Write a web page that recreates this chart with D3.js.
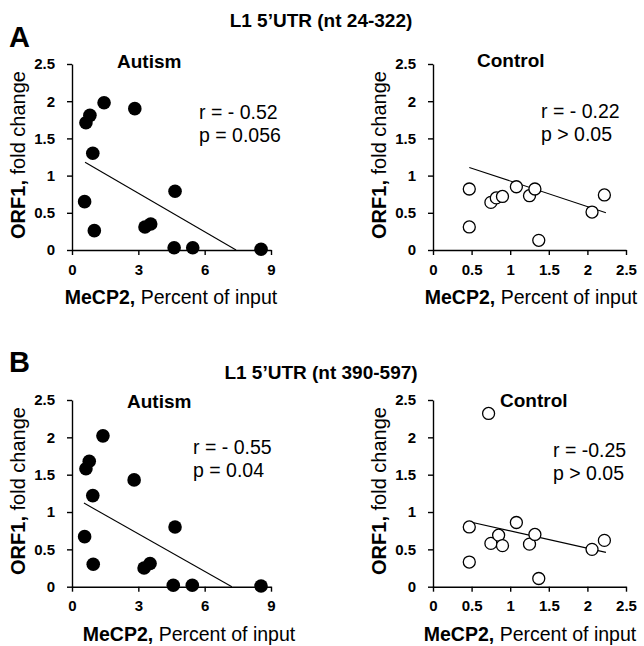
<!DOCTYPE html>
<html>
<head>
<meta charset="utf-8">
<script src="https://cdn.jsdelivr.net/npm/d3@7"></script>
<style>
  body { margin: 0; background: #fff; }
  text { font-family: "Liberation Sans", Arial, sans-serif; }
</style>
</head>
<body>
<div id="chart"></div>
<script>
// values
var sectionTitles = ["L1 5\u2019UTR (nt 24-322)", "L1 5\u2019UTR (nt 390-597)"];
var sectionLetters = ["A", "B"];

var autismXTicks = [0, 3, 6, 9];
var controlXTicks = [0, 0.5, 1, 1.5, 2, 2.5];
var yTicks = [0, 0.5, 1, 1.5, 2, 2.5];

// A, autism
var autismA_x = [1.45, 2.84, 0.81, 0.63, 0.94, 0.57, 1.01, 4.66, 3.30, 3.56, 4.62, 5.46, 8.55];
var autismA_y = [1.98, 1.90, 1.81, 1.71, 1.30, 0.65, 0.26, 0.79, 0.31, 0.35, 0.03, 0.03, 0.01];
var autismA_trend = [[0.59, 1.18], [7.42, 0]];
var autismA_stats = ["r = - 0.52", "p = 0.056"];

// A, control
var controlA_x = [0.47, 0.47, 0.75, 0.82, 0.90, 1.08, 1.25, 1.32, 1.37, 2.06, 2.22];
var controlA_y = [0.82, 0.31, 0.64, 0.70, 0.72, 0.85, 0.73, 0.82, 0.13, 0.51, 0.74];
var controlA_trend = [[0.47, 1.11], [2.24, 0.50]];
var controlA_stats = ["r = - 0.22", "p > 0.05"];

// B, autism
var autismB_x = [1.40, 0.78, 0.63, 0.94, 2.81, 0.57, 0.96, 4.66, 3.26, 3.53, 4.58, 5.44, 8.55];
var autismB_y = [2.02, 1.68, 1.58, 1.22, 1.43, 0.67, 0.30, 0.80, 0.25, 0.31, 0.02, 0.02, 0.01];
var autismB_trend = [[0.54, 1.12], [7.23, 0]];
var autismB_stats = ["r = - 0.55", "p = 0.04"];

// B, control
var controlB_x = [0.72, 0.47, 0.47, 0.75, 0.85, 0.90, 1.08, 1.25, 1.32, 1.37, 2.06, 2.22];
var controlB_y = [2.32, 0.80, 0.33, 0.58, 0.69, 0.55, 0.86, 0.57, 0.70, 0.11, 0.50, 0.62];
var controlB_trend = [[0.47, 0.87], [2.24, 0.46]];
var controlB_stats = ["r = -0.25", "p > 0.05"];

var svgWidth = 644;
var svgHeight = 646;

var svg = d3.select("#chart")
    .append("svg")
    .attr("width", svgWidth)
    .attr("height", svgHeight);

// section letters and titles
var titleY = [27, 379];
var letterY = [47, 372];
for (var s = 0; s < 2; s++) {
    svg.append("text")
        .attr("x", 9)
        .attr("y", letterY[s])
        .style("font-size", "29px")
        .style("font-weight", "bold")
        .text(sectionLetters[s]);
    svg.append("text")
        .attr("x", 321)
        .attr("y", titleY[s])
        .attr("text-anchor", "middle")
        .style("font-size", "19px")
        .style("font-weight", "bold")
        .text(sectionTitles[s]);
}

var panels = [
    { xs: autismA_x, ys: autismA_y, trend: autismA_trend, stats: autismA_stats, name: "Autism",
      xMax: 9, xTicks: autismXTicks, left: 72, right: 271, top: 64, bottom: 250, filled: true,
      nameX: 117, nameY: 68, statX: 199, statY: 119, xLabelX: 171, ylabX: 25 },
    { xs: controlA_x, ys: controlA_y, trend: controlA_trend, stats: controlA_stats, name: "Control",
      xMax: 2.5, xTicks: controlXTicks, left: 433, right: 626, top: 64, bottom: 250, filled: false,
      nameX: 477, nameY: 67, statX: 541, statY: 118, xLabelX: 531, ylabX: 386 },
    { xs: autismB_x, ys: autismB_y, trend: autismB_trend, stats: autismB_stats, name: "Autism",
      xMax: 9, xTicks: autismXTicks, left: 72, right: 271, top: 400, bottom: 586.7, filled: true,
      nameX: 127, nameY: 408, statX: 193, statY: 454, xLabelX: 189, ylabX: 25 },
    { xs: controlB_x, ys: controlB_y, trend: controlB_trend, stats: controlB_stats, name: "Control",
      xMax: 2.5, xTicks: controlXTicks, left: 433, right: 626, top: 400, bottom: 586.7, filled: false,
      nameX: 500, nameY: 407, statX: 553, statY: 457, xLabelX: 530, ylabX: 386 }
];

panels.forEach(function (p) {
    var x = d3.scaleLinear().domain([0, p.xMax]).range([p.left, p.right]);
    var y = d3.scaleLinear().domain([0, 2.5]).range([p.bottom, p.top]);
    var g = svg.append("g");

    // axes
    var xAxis = g.append("g")
        .attr("transform", "translate(0," + p.bottom + ")")
        .call(d3.axisBottom(x).tickValues(p.xTicks).tickSize(5).tickSizeOuter(0).tickPadding(9)
            .tickFormat(d3.format("")));
    var yAxis = g.append("g")
        .attr("transform", "translate(" + p.left + ",0)")
        .call(d3.axisLeft(y).tickValues(yTicks).tickSize(5).tickSizeOuter(0).tickPadding(12)
            .tickFormat(d3.format("")));
    [xAxis, yAxis].forEach(function (a) {
        a.select(".domain").attr("stroke", "#000").attr("stroke-width", 1.4);
        a.selectAll(".tick line").attr("stroke", "#000").attr("stroke-width", 1.4);
        a.selectAll(".tick text")
            .attr("fill", "#000")
            .style("font-family", "'Liberation Sans', Arial, sans-serif")
            .style("font-size", "15px")
            .style("font-weight", "bold");
    });

    // trend line
    g.append("line")
        .attr("x1", x(p.trend[0][0])).attr("y1", y(p.trend[0][1]))
        .attr("x2", x(p.trend[1][0])).attr("y2", y(p.trend[1][1]))
        .attr("stroke", "#000")
        .attr("stroke-width", 1.1);

    // points
    g.append("g")
        .selectAll("circle")
        .data(p.xs)
        .enter()
        .append("circle")
        .attr("cx", function (d) { return x(d); })
        .attr("cy", function (d, i) { return y(p.ys[i]); })
        .attr("r", p.filled ? 6.8 : 6)
        .style("fill", p.filled ? "#000" : "#fff")
        .style("stroke", "#000")
        .style("stroke-width", p.filled ? 0 : 1.3);

    // group name
    g.append("text")
        .attr("x", p.nameX)
        .attr("y", p.nameY)
        .style("font-size", "19px")
        .style("font-weight", "bold")
        .text(p.name);

    // r and p
    g.selectAll(".stat")
        .data(p.stats)
        .enter()
        .append("text")
        .attr("x", p.statX)
        .attr("y", function (d, i) { return p.statY + i * 23; })
        .style("font-size", "19.5px")
        .text(function (d) { return d; });

    // x label
    var xl = g.append("text")
        .attr("x", p.xLabelX)
        .attr("y", p.bottom + 54)
        .attr("text-anchor", "middle")
        .style("font-size", "19.5px");
    xl.append("tspan").style("font-weight", "bold").text("MeCP2,");
    xl.append("tspan").text(" Percent of input");

    // y label
    var yl = g.append("text")
        .attr("transform", "translate(" + p.ylabX + "," + (p.top + 91) + ") rotate(-90)")
        .attr("text-anchor", "middle")
        .style("font-size", "20px");
    yl.append("tspan").style("font-weight", "bold").text("ORF1,");
    yl.append("tspan").text(" fold change");
});
</script>
</body>
</html>
